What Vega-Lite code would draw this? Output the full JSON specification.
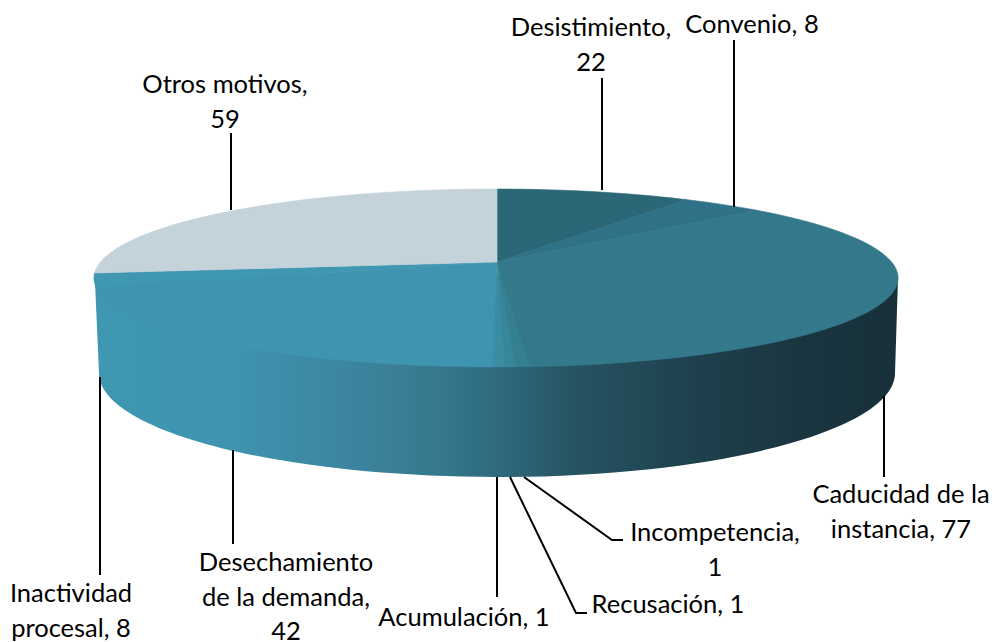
{
"$schema":"https://vega.github.io/schema/vega-lite/v6.json",
"width":994,"height":642,
"autosize":{"type":"fit","contains":"padding"},
"padding":0,
"background":"white",
"config":{"view":{"stroke":null}},
"data":{"values":[
{"orden":0,"motivo":"Desistimiento","valor":22,"etiqueta":"Desistimiento,\n22"},
{"orden":1,"motivo":"Convenio","valor":8,"etiqueta":"Convenio, 8"},
{"orden":2,"motivo":"Caducidad de la instancia","valor":77,"etiqueta":"Caducidad de la\ninstancia, 77"},
{"orden":3,"motivo":"Incompetencia","valor":1,"etiqueta":"Incompetencia,\n1"},
{"orden":4,"motivo":"Recusación","valor":1,"etiqueta":"Recusación, 1"},
{"orden":5,"motivo":"Acumulación","valor":1,"etiqueta":"Acumulación, 1"},
{"orden":6,"motivo":"Desechamiento de la demanda","valor":42,"etiqueta":"Desechamiento\nde la demanda,\n42"},
{"orden":7,"motivo":"Inactividad procesal","valor":8,"etiqueta":"Inactividad\nprocesal, 8"},
{"orden":8,"motivo":"Otros motivos","valor":59,"etiqueta":"Otros motivos,\n59"}
]},
"resolve":{"scale":{"x":"independent","y":"independent","shape":"independent"}},
"layer":[
{
"data":{"values":[{"pieza":"lateral"}]},
"mark":{"type":"point","filled":true,"opacity":1,"size":4,"strokeWidth":0,
"shape":"M-402.4,11L-398,111A398,104,0,0,0,398,111L401,16Z",
"fill":{"gradient":"linear","x1":0,"x2":1,"y1":0,"y2":0,"stops":[
{"offset":0,"color":"#3F97B2"},{"offset":0.17,"color":"#3F94AF"},{"offset":0.305,"color":"#3C86A0"},{"offset":0.43,"color":"#36788D"},{"offset":0.5,"color":"#2E6A7D"},{"offset":0.6,"color":"#265362"},{"offset":0.75,"color":"#1E404C"},{"offset":0.88,"color":"#1A3540"},{"offset":1,"color":"#17303A"}]}},
"encoding":{
"x":{"datum":497,"type":"quantitative","scale":{"domain":[0,994],"range":[0,994]},"axis":null},
"y":{"datum":262,"type":"quantitative","scale":{"domain":[0,642],"range":[0,642]},"axis":null}
}
},
{
"mark":{"type":"point","filled":true,"opacity":1,"size":4,"strokeWidth":0.6},
"encoding":{
"x":{"datum":497,"type":"quantitative","scale":{"domain":[0,994],"range":[0,994]},"axis":null},
"y":{"datum":262,"type":"quantitative","scale":{"domain":[0,642],"range":[0,642]},"axis":null},
"shape":{"field":"orden","type":"nominal","legend":null,"scale":{"domain":[0,1,2,3,4,5,6,7,8],"range":[
"M0,0L0,-73A402,89,0,0,1,190,-62.3Z",
"M0,0L190,-62.3A402,89,0,0,1,260,-51.7Z",
"M0,0L260,-51.7A402,89,0,0,1,33,104.7Z",
"M0,0L33,104.7A402,89,0,0,1,19,104.9Z",
"M0,0L19,104.9A402,89,0,0,1,8,105Z",
"M0,0L8,105A402,89,0,0,1,-5,105Z",
"M0,0L-5,105A402,89,0,0,1,-401,25Z",
"M0,0L-401,25A402,89,0,0,1,-402.4,11Z",
"M0,0L-402.4,11A402,89,0,0,1,0,-73Z"]}},
"fill":{"field":"orden","type":"nominal","legend":null,"scale":{"domain":[0,1,2,3,4,5,6,7,8],"range":["#2C6778","#2F7186","#33788B","#358090","#378699","#3A8CA3","#3F95B0","#4097B2","#C4D3DA"]}},
"stroke":{"field":"orden","type":"nominal","legend":null,"scale":{"domain":[0,1,2,3,4,5,6,7,8],"range":["#2C6778","#2F7186","#33788B","#358090","#378699","#3A8CA3","#3F95B0","#4097B2","#C4D3DA"]}}
}
},
{
"mark":{"type":"point","filled":false,"opacity":1,"size":4,"strokeWidth":2,"stroke":"#000000","fill":null},
"encoding":{
"x":{"datum":497,"type":"quantitative","scale":{"domain":[0,994],"range":[0,994]},"axis":null},
"y":{"datum":262,"type":"quantitative","scale":{"domain":[0,642],"range":[0,642]},"axis":null},
"shape":{"field":"orden","type":"nominal","legend":null,"scale":{"domain":[0,1,2,3,4,5,6,7,8],"range":[
"M105,-184L105,-72",
"M237,-222L237,-55",
"M387,134L387,215",
"M27,215L115,278L126,278",
"M13,215L79,351L90,351",
"M0,215L0,335",
"M-264,188L-264,282",
"M-397,115L-397,313",
"M-266,-129L-266,-52"]}}
}
},
{
"mark":{"type":"text","font":"Lato","fontSize":25.5,"lineHeight":34.5,"lineBreak":"\n","align":"center","baseline":"middle","color":"#000000"},
"encoding":{
"x":{"field":"orden","type":"quantitative","axis":null,"scale":{"type":"linear","nice":false,"zero":false,"domain":[0,1,2,3,4,5,6,7,8],"range":[591,752,901,715,668,464,286,71,225]}},
"y":{"field":"orden","type":"quantitative","axis":null,"scale":{"type":"linear","nice":false,"zero":false,"domain":[0,1,2,3,4,5,6,7,8],"range":[28,25,495,533,605,618,563,594,85]}},
"text":{"field":"etiqueta"}
}
}
]
}
